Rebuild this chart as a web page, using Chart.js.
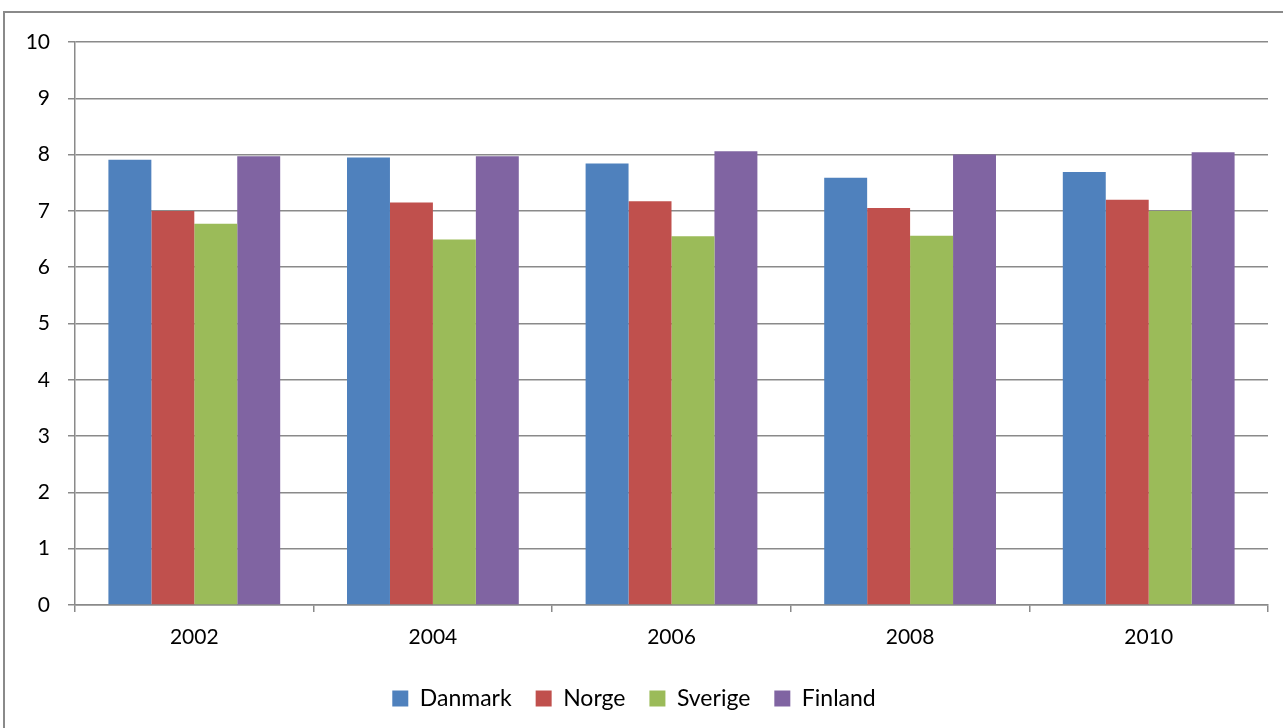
<!DOCTYPE html>
<html>
<head>
<meta charset="utf-8">
<script src="https://cdn.jsdelivr.net/npm/chart.js@4/dist/chart.umd.min.js"></script>
<style>
  html, body { margin: 0; padding: 0; background: #fff; overflow: hidden; }
  #frame { position: absolute; left: 3px; top: 11px; width: 1300px; height: 740px; border: 2px solid #8a8a8a; box-sizing: border-box; }
  #wrap { position: absolute; left: 0; top: 0; width: 1283px; height: 728px; }
</style>
</head>
<body>
<div id="frame"></div>
<div id="wrap"><canvas id="chart"></canvas></div>
<script>
// data
const years = ['2002', '2004', '2006', '2008', '2010'];
const danmark = [7.91, 7.95, 7.84, 7.59, 7.69];
const norge   = [7.00, 7.15, 7.17, 7.05, 7.20];
const sverige = [6.77, 6.49, 6.55, 6.56, 7.00];
const finland = [7.97, 7.97, 8.06, 8.00, 8.04];
const seriesNames = ['Danmark', 'Norge', 'Sverige', 'Finland'];
const yTicks = [0, 1, 2, 3, 4, 5, 6, 7, 8, 9, 10];

const colors = ['#4F81BD', '#C0504D', '#9BBB59', '#8064A2'];
const font = { family: 'Lato, "Liberation Sans", sans-serif', size: 21 };
const legendFont = { family: 'Lato, "Liberation Sans", sans-serif', size: 23 };

const allValues = [danmark, norge, sverige, finland];

const config = {
    type: 'bar',
    data: {
        labels: years,
        datasets: seriesNames.map((name, i) => ({
            label: name,
            data: allValues[i],
            backgroundColor: colors[i],
            borderWidth: 0,
            barPercentage: 1,
            categoryPercentage: 0.72
        }))
    },
    options: {
        responsive: true,
        maintainAspectRatio: false,
        animation: false,
        layout: { padding: { left: 0, right: 15, top: 42, bottom: 8 } },
        plugins: {
            tooltip: { enabled: false },
            legend: {
                position: 'bottom',
                labels: {
                    color: '#000',
                    font: legendFont,
                    boxWidth: 16,
                    boxHeight: 16,
                    padding: 24
                }
            }
        },
        scales: {
            x: {
                grid: { drawOnChartArea: false, color: '#8a8a8a', tickLength: 7, lineWidth: 1.5 },
                border: { color: '#8a8a8a', width: 1.5 },
                ticks: { color: '#000', font: font, padding: 13 },
                afterFit(scale) { scale.height = 58; }
            },
            y: {
                min: 0,
                max: 10,
                afterBuildTicks(scale) { scale.ticks = yTicks.map(v => ({ value: v })); },
                grid: { color: '#8a8a8a', tickLength: 7, lineWidth: 1.5 },
                border: { color: '#8a8a8a', width: 1.5 },
                ticks: { color: '#000', font: font, padding: 18 },
                afterFit(scale) { scale.width = 75; }
            }
        }
    }
};

new Chart(document.getElementById('chart').getContext('2d'), config);
</script>
</body>
</html>
